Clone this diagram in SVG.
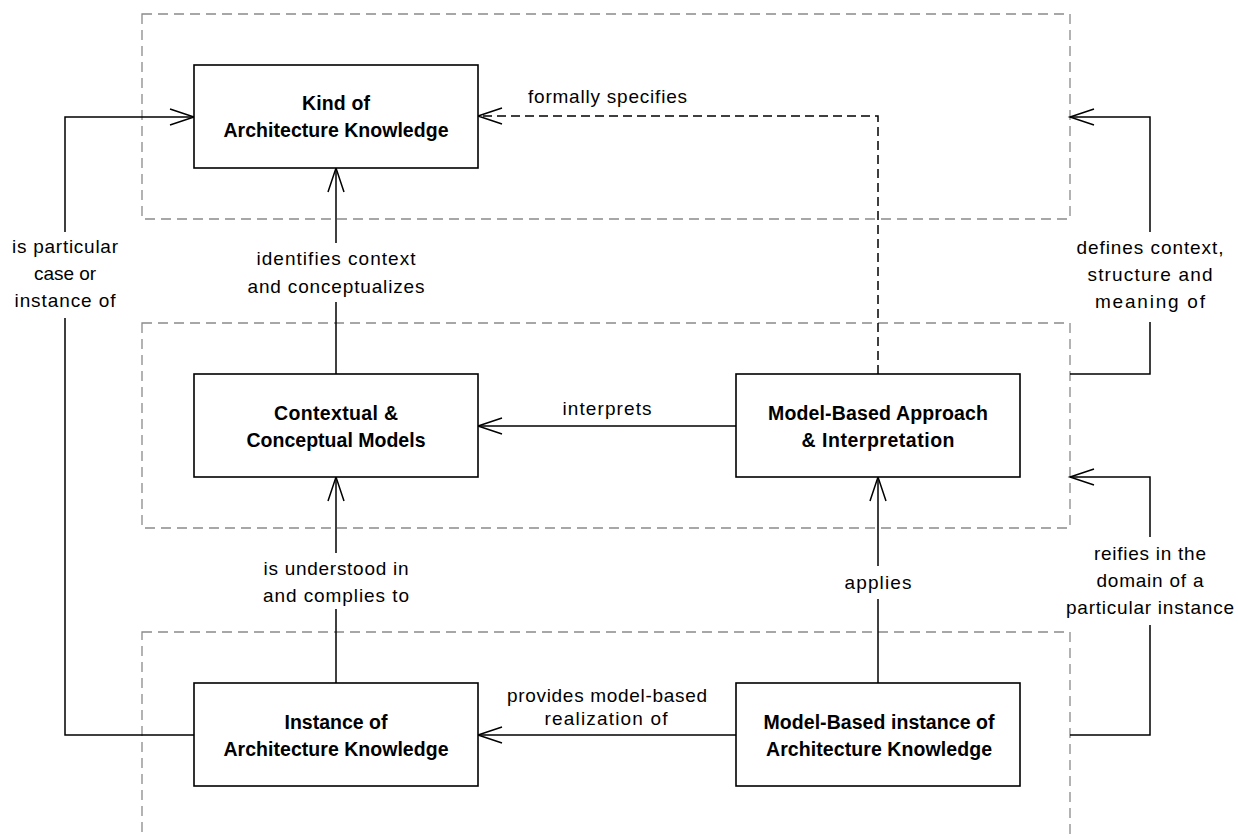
<svg xmlns="http://www.w3.org/2000/svg" width="1238" height="838" viewBox="0 0 1238 838">
  <style>
    .frame { fill: none; stroke: #8a8a8a; stroke-width: 1.3; stroke-dasharray: 10 6; }
    .box { fill: #ffffff; stroke: #000000; stroke-width: 1.6; }
    .node-text { font-family: "Liberation Sans", Arial, sans-serif; font-size: 19.5px; font-weight: bold; fill: #000000; text-anchor: middle; }
    .edge { fill: none; stroke: #000000; stroke-width: 1.5; }
    .edge.dashed { stroke-dasharray: 9 5; }
    .label { font-family: "Liberation Sans", Arial, sans-serif; font-size: 19px; fill: #000000; text-anchor: middle; }
  </style>
  <defs>
    <marker id="open-arrow" markerUnits="userSpaceOnUse" markerWidth="30" markerHeight="20" viewBox="-26 -10 28 20" refX="0" refY="0" orient="auto">
      <path d="M-24,-8 L0,0 L-24,8" fill="none" stroke="#000000" stroke-width="1.5"/>
    </marker>
  </defs>

  <rect width="1238" height="838" fill="#ffffff"/>

  <!-- layer frames -->
  <g id="frames">
    <rect class="frame" x="142" y="14" width="928" height="205"/>
    <rect class="frame" x="142" y="323" width="928" height="205"/>
    <rect class="frame" x="142" y="632" width="928" height="260"/>
  </g>

  <!-- connectors -->
  <g id="connectors">
    <!-- is particular case or instance of -->
    <path class="edge" d="M194,735 H65 V318"/>
    <path class="edge" d="M65,232 V117 H194" marker-end="url(#open-arrow)"/>
    <text class="label" x="65" y="253" textLength="106" lengthAdjust="spacing">is particular</text>
    <text class="label" x="65" y="280" textLength="62" lengthAdjust="spacing">case or</text>
    <text class="label" x="65" y="307" textLength="101" lengthAdjust="spacing">instance of</text>

    <!-- identifies context and conceptualizes -->
    <path class="edge" d="M336,374 V302"/>
    <path class="edge" d="M336,243 V168" marker-end="url(#open-arrow)"/>
    <text class="label" x="336" y="265" textLength="159" lengthAdjust="spacing">identifies context</text>
    <text class="label" x="336" y="293" textLength="177" lengthAdjust="spacing">and conceptualizes</text>

    <!-- formally specifies -->
    <path class="edge dashed" d="M878,374 V116 H478" marker-end="url(#open-arrow)"/>
    <text class="label" x="607.5" y="103" textLength="159" lengthAdjust="spacing">formally specifies</text>

    <!-- interprets -->
    <path class="edge" d="M736,426 H478" marker-end="url(#open-arrow)"/>
    <text class="label" x="607" y="415" textLength="89" lengthAdjust="spacing">interprets</text>

    <!-- defines context, structure and meaning of -->
    <path class="edge" d="M1070,374 H1150 V322"/>
    <path class="edge" d="M1150,232 V117 H1070" marker-end="url(#open-arrow)"/>
    <text class="label" x="1150" y="254" textLength="147" lengthAdjust="spacing">defines context,</text>
    <text class="label" x="1150" y="281" textLength="125" lengthAdjust="spacing">structure and</text>
    <text class="label" x="1150" y="308" textLength="110" lengthAdjust="spacing">meaning of</text>

    <!-- is understood in and complies to -->
    <path class="edge" d="M336,683 V609"/>
    <path class="edge" d="M336,553 V477" marker-end="url(#open-arrow)"/>
    <text class="label" x="336" y="575" textLength="145" lengthAdjust="spacing">is understood in</text>
    <text class="label" x="336" y="602" textLength="146" lengthAdjust="spacing">and complies to</text>

    <!-- applies -->
    <path class="edge" d="M878,683 V599"/>
    <path class="edge" d="M878,566 V477" marker-end="url(#open-arrow)"/>
    <text class="label" x="878" y="589" textLength="67" lengthAdjust="spacing">applies</text>

    <!-- reifies in the domain of a particular instance -->
    <path class="edge" d="M1070,735 H1150 V625"/>
    <path class="edge" d="M1150,537 V477 H1070" marker-end="url(#open-arrow)"/>
    <text class="label" x="1150" y="560" textLength="112" lengthAdjust="spacing">reifies in the</text>
    <text class="label" x="1150" y="587" textLength="107" lengthAdjust="spacing">domain of a</text>
    <text class="label" x="1150" y="614" textLength="168" lengthAdjust="spacing">particular instance</text>

    <!-- provides model-based realization of -->
    <path class="edge" d="M736,735 H478" marker-end="url(#open-arrow)"/>
    <text class="label" x="607" y="702" textLength="200" lengthAdjust="spacing">provides model-based</text>
    <text class="label" x="606" y="725" textLength="123" lengthAdjust="spacing">realization of</text>
  </g>

  <!-- nodes -->
  <g id="kind-of-ak">
    <rect class="box" x="194" y="65" width="284" height="103"/>
    <text class="node-text" x="336" y="110" textLength="68" lengthAdjust="spacing">Kind of</text>
    <text class="node-text" x="336" y="137" textLength="225" lengthAdjust="spacing">Architecture Knowledge</text>
  </g>
  <g id="contextual-models">
    <rect class="box" x="194" y="374" width="284" height="103"/>
    <text class="node-text" x="336" y="420" textLength="124" lengthAdjust="spacing">Contextual &amp;</text>
    <text class="node-text" x="336" y="447" textLength="179" lengthAdjust="spacing">Conceptual Models</text>
  </g>
  <g id="model-based-approach">
    <rect class="box" x="736" y="374" width="284" height="103"/>
    <text class="node-text" x="878" y="420" textLength="220" lengthAdjust="spacing">Model-Based Approach</text>
    <text class="node-text" x="878" y="447" textLength="153" lengthAdjust="spacing">&amp; Interpretation</text>
  </g>
  <g id="instance-of-ak">
    <rect class="box" x="194" y="683" width="284" height="103"/>
    <text class="node-text" x="336" y="729" textLength="103" lengthAdjust="spacing">Instance of</text>
    <text class="node-text" x="336" y="756" textLength="225" lengthAdjust="spacing">Architecture Knowledge</text>
  </g>
  <g id="model-based-instance">
    <rect class="box" x="736" y="683" width="284" height="103"/>
    <text class="node-text" x="879" y="729" textLength="231" lengthAdjust="spacing">Model-Based instance of</text>
    <text class="node-text" x="879" y="756" textLength="226" lengthAdjust="spacing">Architecture Knowledge</text>
  </g>
</svg>
